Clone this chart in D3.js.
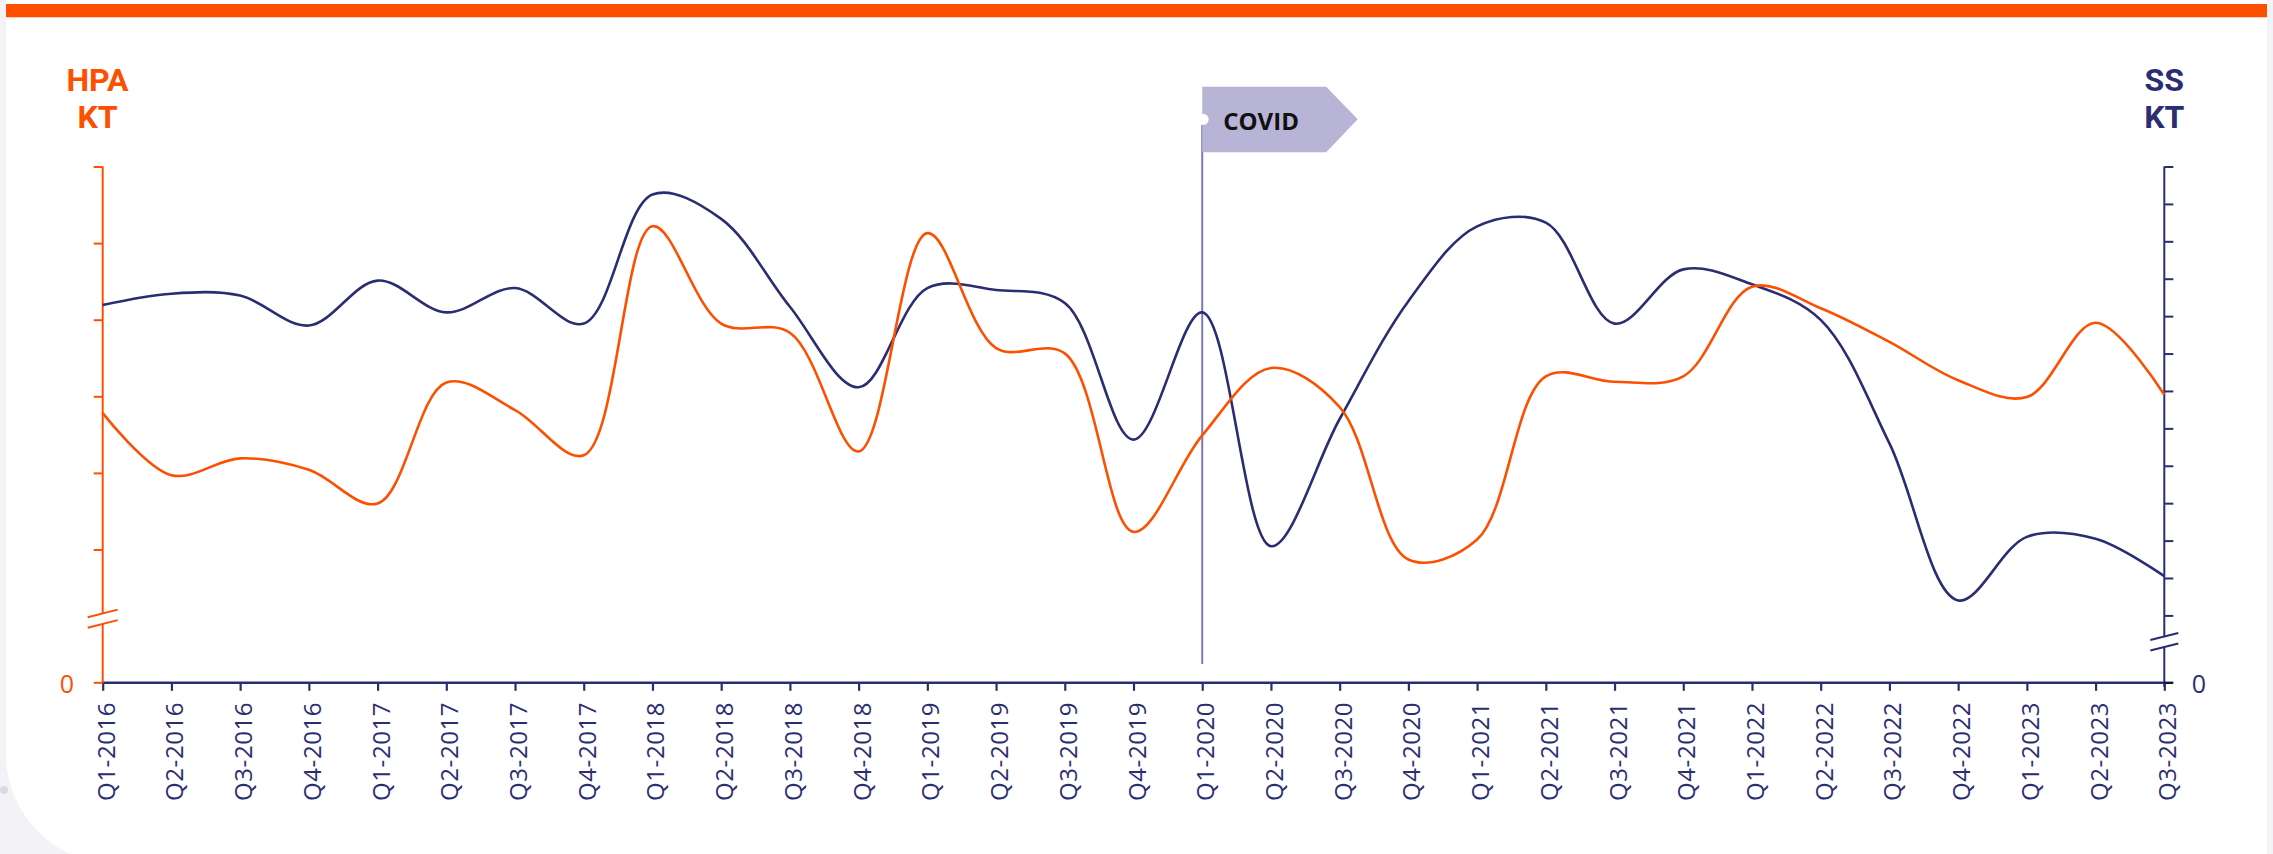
<!DOCTYPE html>
<html>
<head>
<meta charset="utf-8">
<script src="https://cdn.jsdelivr.net/npm/d3@7"></script>
<style>
  html, body { margin: 0; padding: 0; background: #f3f3f7; }
  svg { display: block; }
</style>
</head>
<body>
<svg id="chart" width="2273" height="854"></svg>
<script>
// ---------- DATA ----------
const quarters = [
  "Q1-2016","Q2-2016","Q3-2016","Q4-2016",
  "Q1-2017","Q2-2017","Q3-2017","Q4-2017",
  "Q1-2018","Q2-2018","Q3-2018","Q4-2018",
  "Q1-2019","Q2-2019","Q3-2019","Q4-2019",
  "Q1-2020","Q2-2020","Q3-2020","Q4-2020",
  "Q1-2021","Q2-2021","Q3-2021","Q4-2021",
  "Q1-2022","Q2-2022","Q3-2022","Q4-2022",
  "Q1-2023","Q2-2023","Q3-2023"
];
// HPA (left axis, KT)
const hpaValues = [278,197,219,204,160,318,282,223,522,395,383,228,513,363,356,123,
                   249,337,286,87,113,326,319,326,443,415,371,321,299,396,302];
// SS (right axis, KT)
const ssValues  = [206,212,211,195,219,202,215,196,265,252,205,162,215,214,207,134,
                   202,77,145,208,248,250,196,225,217,198,132,48,82,81,61];
const hpaTicks = [100,200,300,400,500,600];
const ssTicks  = [40,60,80,100,120,140,160,180,200,220,240,260,280];
const leftTitle  = ["HPA","KT"];
const rightTitle = ["SS","KT"];
const zeroLabel = "0";
const eventQuarter = "Q1-2020";
const eventLabel = "COVID";

// ---------- STYLE / LAYOUT ----------
const ORANGE = "#fc5000";
const NAVY = "#2b2d72";
const W = 2273, H = 854;
const xLeft = 102.7, xRight = 2164.3;
const yTop = 166.5, baseY = 682.8;

const svg = d3.select("#chart");

// card background
svg.append("path")
  .attr("d", `M6,0 H2267 V${H+10} H116 A110,110 0 0 1 6,${H-100} Z`)
  .attr("fill", "#ffffff");
svg.append("rect").attr("x", 6).attr("y", 4).attr("width", 2261).attr("height", 13.3).attr("fill", ORANGE);

// faint decorative mark in background corner
const deco = svg.append("g").attr("stroke", "#d9d8e8").attr("stroke-width", 1.2).attr("fill", "none").attr("opacity", 0.8);
deco.append("circle").attr("cx", 4).attr("cy", 790).attr("r", 4).attr("fill", "#d3d2e4").attr("stroke", "none");

// scales
const x = d3.scalePoint().domain(quarters).range([xLeft, xRight]);
const yL = d3.scaleLinear().domain([100, 600]).range([549.5, yTop]);
const yR = d3.scaleLinear().domain([40, 280]).range([615.4, yTop]);

// ---------- EVENT MARKER ----------
const ex = x(eventQuarter);
svg.append("line")
  .attr("x1", ex).attr("x2", ex).attr("y1", 125).attr("y2", 664)
  .attr("stroke", "#7f79b3").attr("stroke-width", 2);
svg.append("path")
  .attr("d", `M${ex},86.7 H${ex+124} L${ex+155.5},119.3 L${ex+124},152.3 H${ex} Z`)
  .attr("fill", "#b8b4d6");
svg.append("circle").attr("cx", ex + 1).attr("cy", 119.3).attr("r", 5.5).attr("fill", "#ffffff");
svg.append("text")
  .attr("x", ex + 21).attr("y", 129.5)
  .attr("font-family", "'Open Sans', 'Noto Sans', sans-serif")
  .attr("font-weight", 700).attr("font-size", 24)
  .attr("fill", "#111111")
  .text(eventLabel);

// ---------- AXES ----------
// x axis
const xAxis = svg.append("g").attr("transform", `translate(0,${baseY})`)
  .call(d3.axisBottom(x).tickSize(8).tickFormat(""));
xAxis.select(".domain").remove();
xAxis.selectAll(".tick line").attr("stroke", NAVY).attr("stroke-width", 2.2);
svg.append("line").attr("x1", xLeft).attr("x2", xRight).attr("y1", baseY).attr("y2", baseY)
  .attr("stroke", NAVY).attr("stroke-width", 2.6);

svg.append("g").selectAll("text").data(quarters).join("text")
  .attr("transform", d => `translate(${x(d)},${baseY + 19}) rotate(-90)`)
  .attr("text-anchor", "end")
  .attr("dy", "0.5em")
  .attr("font-family", "'Open Sans', 'Noto Sans', sans-serif")
  .attr("font-size", 24)
  .attr("letter-spacing", 0.6)
  .attr("fill", NAVY)
  .text(d => d);

// left axis
const la = svg.append("g").attr("transform", `translate(${xLeft},0)`)
  .call(d3.axisLeft(yL).tickValues(hpaTicks).tickSize(9).tickFormat(""));
la.select(".domain").remove();
la.selectAll(".tick line").attr("stroke", ORANGE).attr("stroke-width", 2);
const lBreak1 = 613.4, lBreak2 = 623.9;
svg.append("line").attr("x1", xLeft).attr("x2", xLeft).attr("y1", yTop).attr("y2", lBreak1)
  .attr("stroke", ORANGE).attr("stroke-width", 2);
svg.append("line").attr("x1", xLeft).attr("x2", xLeft).attr("y1", lBreak2).attr("y2", baseY)
  .attr("stroke", ORANGE).attr("stroke-width", 2);
[lBreak1, lBreak2].forEach(b => {
  svg.append("line").attr("x1", xLeft - 15).attr("y1", b + 3.8).attr("x2", xLeft + 15).attr("y2", b - 3.8)
    .attr("stroke", ORANGE).attr("stroke-width", 2);
});
svg.append("line").attr("x1", xLeft - 9).attr("x2", xLeft).attr("y1", baseY).attr("y2", baseY)
  .attr("stroke", ORANGE).attr("stroke-width", 2);
svg.append("text").attr("x", 67).attr("y", 693).attr("text-anchor", "middle")
  .attr("font-family", "'Open Sans', 'Noto Sans', sans-serif").attr("font-size", 25)
  .attr("fill", ORANGE).text(zeroLabel);

// right axis
const ra = svg.append("g").attr("transform", `translate(${xRight},0)`)
  .call(d3.axisRight(yR).tickValues(ssTicks).tickSize(9).tickFormat(""));
ra.select(".domain").remove();
ra.selectAll(".tick line").attr("stroke", NAVY).attr("stroke-width", 2);
const rBreak1 = 636.5, rBreak2 = 647;
svg.append("line").attr("x1", xRight).attr("x2", xRight).attr("y1", yTop).attr("y2", rBreak1)
  .attr("stroke", NAVY).attr("stroke-width", 2);
svg.append("line").attr("x1", xRight).attr("x2", xRight).attr("y1", rBreak2).attr("y2", baseY + 4)
  .attr("stroke", NAVY).attr("stroke-width", 2);
[rBreak1, rBreak2].forEach(b => {
  svg.append("line").attr("x1", xRight - 14).attr("y1", b + 3.5).attr("x2", xRight + 14).attr("y2", b - 3.5)
    .attr("stroke", NAVY).attr("stroke-width", 2);
});
svg.append("line").attr("x1", xRight).attr("x2", xRight + 9).attr("y1", baseY).attr("y2", baseY)
  .attr("stroke", "#151530").attr("stroke-width", 2.4);
svg.append("text").attr("x", 2199).attr("y", 693).attr("text-anchor", "middle")
  .attr("font-family", "'Open Sans', 'Noto Sans', sans-serif").attr("font-size", 25)
  .attr("fill", NAVY).text(zeroLabel);

// axis titles
svg.append("g").selectAll("text").data(leftTitle).join("text")
  .attr("x", 97.5).attr("y", (d, i) => 90.7 + i * 37.6)
  .attr("text-anchor", "middle")
  .attr("font-family", "Roboto, 'Liberation Sans', sans-serif")
  .attr("font-weight", 700).attr("font-size", 32)
  .attr("fill", ORANGE).text(d => d);
svg.append("g").selectAll("text").data(rightTitle).join("text")
  .attr("x", xRight).attr("y", (d, i) => 90.7 + i * 37.6)
  .attr("text-anchor", "middle")
  .attr("font-family", "Roboto, 'Liberation Sans', sans-serif")
  .attr("font-weight", 700).attr("font-size", 32)
  .attr("fill", NAVY).text(d => d);

// ---------- LINES ----------
const lineL = d3.line().x((d, i) => x(quarters[i])).y(d => yL(d)).curve(d3.curveCatmullRom.alpha(0.5));
const lineR = d3.line().x((d, i) => x(quarters[i])).y(d => yR(d)).curve(d3.curveCatmullRom.alpha(0.5));

svg.append("path").datum(ssValues).attr("d", lineR)
  .attr("fill", "none").attr("stroke", NAVY).attr("stroke-width", 2.6);
svg.append("path").datum(hpaValues).attr("d", lineL)
  .attr("fill", "none").attr("stroke", ORANGE).attr("stroke-width", 2.6);
</script>
</body>
</html>
